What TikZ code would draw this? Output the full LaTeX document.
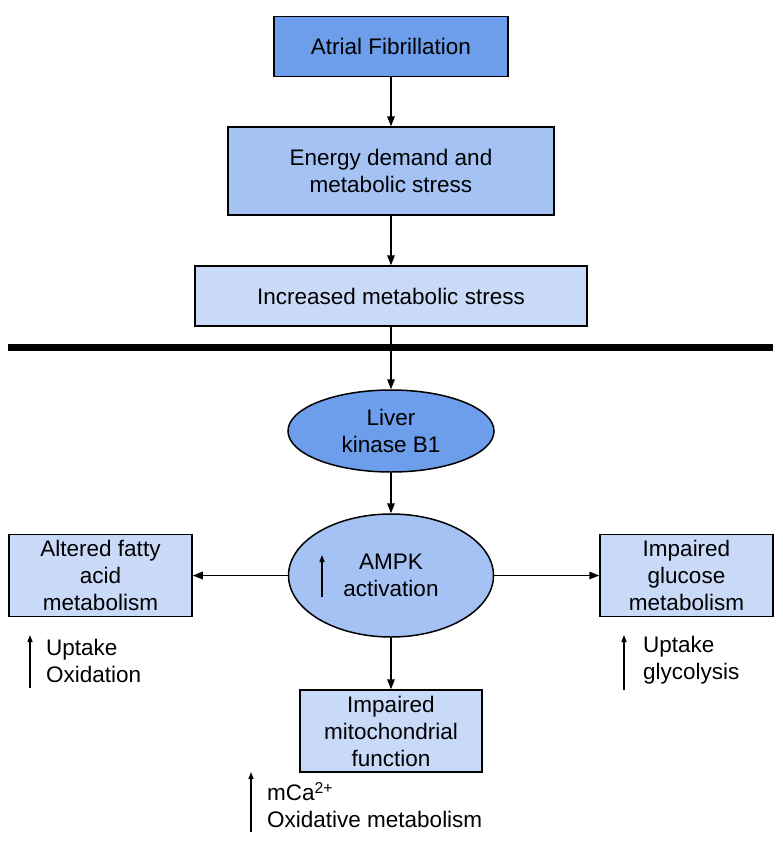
\documentclass[tikz,border=0pt]{standalone}
\usepackage{fontspec}
\setmainfont{Liberation Sans}
\usetikzlibrary{arrows.meta,shapes.geometric}
\definecolor{darkblue}{HTML}{6D9EEB}
\definecolor{midblue}{HTML}{A4C2F4}
\definecolor{paleblue}{HTML}{C9DAF8}

\begin{document}
\begin{tikzpicture}[x=1pt,y=-1pt,node distance=125pt,
		>={Triangle[length=10pt,width=7.5pt]},
		every node/.style={font=\fontsize{22.5}{27}\selectfont,align=center,inner sep=0pt},
		box/.style={draw,line width=1.5pt,rectangle},
		blob/.style={draw,line width=1.5pt,ellipse},
		up/.style={line width=1.3pt,-{Triangle[length=7pt,width=5pt]}}]
			\useasboundingbox (0,0) rectangle (783,847);
			\node (af) [box,fill=darkblue,minimum width=234pt,minimum height=60pt] at (391,46.5) {Atrial Fibrillation};
			\node (ed) [below of=af,node distance=124.5pt,box,fill=midblue,minimum width=326pt,minimum height=88pt] {Energy demand and\\ metabolic stress};
			\node (ims) [below of=ed,box,fill=paleblue,minimum width=392pt,minimum height=60pt] {Increased metabolic stress};
			
			\coordinate (sepl) at (8,347);
			\coordinate (sepr) at (773,347);
			\draw [line width=7pt] (sepl) -- (sepr);
			
			\node (lkb) [below of=ims,node distance=135pt,blob,fill=darkblue,minimum width=206pt,minimum height=82pt] {Liver\\ kinase B1};
			\node (ampk) [below of=lkb,node distance=144.5pt,blob,fill=midblue,minimum width=205pt,minimum height=123pt] {AMPK\\ activation};
			\node (fatty) [left of=ampk,node distance=290.5pt,box,fill=paleblue,minimum width=183pt,minimum height=82pt] {Altered fatty\\ acid\\ metabolism};
			\node (glucose) [right of=ampk,node distance=295.5pt,box,fill=paleblue,minimum width=173pt,minimum height=82pt] {Impaired\\ glucose\\ metabolism};
			\node (mito) [below of=ampk,node distance=155.5pt,box,fill=paleblue,minimum width=182pt,minimum height=82pt] {Impaired\\ mitochondrial\\ function};
			
			\draw [line width=1.5pt,->] (af) -- (ed);
			\draw [line width=1.5pt,->] (ed) -- (ims);
			\draw [line width=1.5pt,->] (ims) -- (lkb);
			\draw [line width=1.5pt,->] (lkb) -- (ampk);
			\draw [line width=1.5pt,->] (ampk) -- (fatty);
			\draw [line width=1.5pt,->] (ampk) -- (glucose);
			\draw [line width=1.5pt,->] (ampk) -- (mito);
			
			\node (fattynote) [anchor=west,align=left] at (46,660.5) {Uptake\\ Oxidation};
			\node (glucosenote) [anchor=west,align=left] at (643,660.5) {Uptake\\ glycolysis};
			\node (mitonote) [anchor=west,align=left] at (267,805) {mCa\textsuperscript{2+}\\ Oxidative metabolism};
			
			\coordinate (ampklo) at (322,597);
			\coordinate (ampkhi) at (322,555);
			\coordinate (fattylo) at (30,688);
			\coordinate (fattyhi) at (30,635);
			\coordinate (glucoselo) at (624,690);
			\coordinate (glucosehi) at (624,635);
			\coordinate (mitolo) at (251,832);
			\coordinate (mitohi) at (251,772);
			\draw [up] (ampklo) -- (ampkhi);
			\draw [up] (fattylo) -- (fattyhi);
			\draw [up] (glucoselo) -- (glucosehi);
			\draw [up] (mitolo) -- (mitohi);
			
		\end{tikzpicture}
\end{document}
